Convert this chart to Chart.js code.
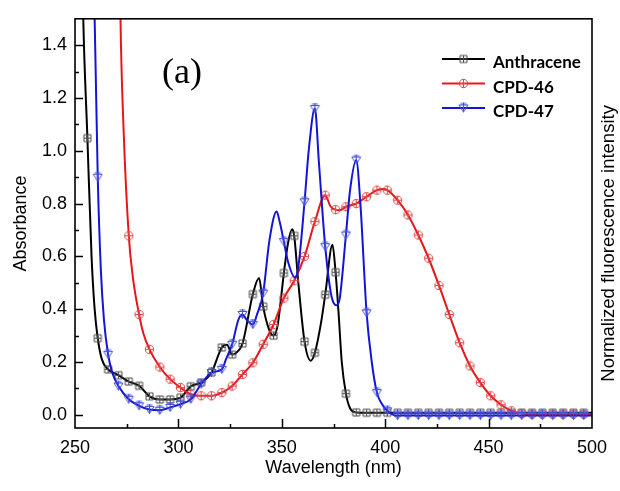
<!DOCTYPE html>
<html>
<head>
<meta charset="utf-8">
<script src="https://cdn.jsdelivr.net/npm/chart.js@4/dist/chart.umd.min.js"></script>
<style>
  html, body { margin: 0; padding: 0; background: #fff; }
  #wrap { width: 620px; height: 491px; }
</style>
</head>
<body>
<div id="wrap"><canvas id="c" width="620" height="491"></canvas></div>
<script>
// Absorption spectra (absorbance vs wavelength, nm)
const anthraceneNm = [252, 254, 256, 258, 259.5, 261, 263, 266, 268.5, 271, 276, 281, 286, 291, 296, 301, 304, 306, 311, 316, 321, 323.5, 326, 328, 331, 336, 339, 341, 344, 346, 348, 351, 353, 355, 356, 358, 361, 364, 366, 369, 371, 374.5, 376, 377.5, 379, 381, 383, 386, 391, 396, 401, 406, 411, 416, 421, 426, 431, 436, 441, 446, 451, 456, 461, 466, 471, 476, 481, 486, 491, 496, 500];
const anthraceneAbs = [2.4, 1.5, 1.048, 0.60, 0.40, 0.29, 0.21, 0.172, 0.16, 0.15, 0.126, 0.11, 0.07, 0.058, 0.058, 0.065, 0.09, 0.108, 0.122, 0.16, 0.255, 0.265, 0.228, 0.235, 0.27, 0.457, 0.518, 0.41, 0.32, 0.30, 0.34, 0.537, 0.65, 0.703, 0.678, 0.50, 0.277, 0.205, 0.235, 0.35, 0.455, 0.644, 0.54, 0.38, 0.2, 0.08, 0.025, 0.009, 0.008, 0.008, 0.008, 0.008, 0.008, 0.008, 0.008, 0.008, 0.008, 0.008, 0.008, 0.008, 0.008, 0.008, 0.008, 0.008, 0.008, 0.008, 0.008, 0.008, 0.008, 0.008, 0.008];

const cpd46Nm = [271, 272, 273.5, 276, 278, 281, 283, 286, 291, 296, 301, 306, 311, 316, 321, 326, 331, 336, 341, 346, 351, 356, 361, 366, 371, 373.5, 376, 378, 381, 386, 391, 396, 399, 401, 406, 411, 416, 421, 426, 431, 436, 441, 446, 451, 456, 461, 466, 471, 476, 481, 486, 491, 496, 500];
const cpd46Abs = [2.2, 1.5, 1.08, 0.678, 0.52, 0.38, 0.31, 0.248, 0.181, 0.135, 0.103, 0.078, 0.072, 0.072, 0.084, 0.109, 0.153, 0.197, 0.267, 0.342, 0.442, 0.508, 0.60, 0.732, 0.832, 0.79, 0.777, 0.775, 0.788, 0.80, 0.826, 0.851, 0.855, 0.851, 0.813, 0.757, 0.681, 0.593, 0.49, 0.38, 0.273, 0.185, 0.122, 0.072, 0.038, 0.015, 0.005, 0.003, 0.003, 0.003, 0.003, 0.003, 0.003, 0.003];

const cpd47Nm = [258.5, 259.5, 261, 262.5, 264, 266, 268, 271, 276, 281, 286, 291, 296, 301, 306, 311, 316, 321, 323, 326, 329, 331, 333, 336, 338, 341, 344, 347.5, 349, 351, 353, 356.5, 358, 361, 363, 366, 368, 371, 374, 376.5, 378, 381, 383, 386, 388, 391, 393.5, 396, 398.5, 401, 404, 406, 411, 416, 421, 426, 431, 436, 441, 446, 451, 456, 461, 466, 471, 476, 481, 486, 491, 496, 500];
const cpd47Abs = [2.0, 1.5, 0.90, 0.55, 0.36, 0.229, 0.16, 0.109, 0.059, 0.034, 0.02, 0.017, 0.028, 0.04, 0.059, 0.116, 0.16, 0.172, 0.21, 0.267, 0.36, 0.38, 0.36, 0.342, 0.38, 0.461, 0.66, 0.77, 0.73, 0.656, 0.58, 0.52, 0.56, 0.807, 1.0, 1.16, 0.95, 0.637, 0.45, 0.415, 0.44, 0.681, 0.85, 0.965, 0.80, 0.386, 0.20, 0.084, 0.04, 0.015, 0.0, -0.003, -0.003, -0.003, -0.003, -0.003, -0.003, -0.003, -0.003, -0.003, -0.003, -0.003, -0.003, -0.003, -0.003, -0.003, -0.003, -0.003, -0.003, -0.003, -0.003];

const seriesNames = ['Anthracene', 'CPD-46', 'CPD-47'];
const xTickValues = [250, 300, 350, 400, 450, 500];
const yTickValues = [0.0, 0.2, 0.4, 0.6, 0.8, 1.0, 1.2, 1.4];

// Symbols sit on the 5 nm grid starting at 256 nm
function onSymbolGrid(x) {
  const d = x - 256;
  return Number.isInteger(x) && d >= 0 && d % 5 === 0;
}

function makeSymbol(kind, color) {
  const s = 13;
  const cv = document.createElement('canvas');
  cv.width = s; cv.height = s;
  const g = cv.getContext('2d');
  g.strokeStyle = color;
  g.lineWidth = 1;
  const c = s / 2;
  g.beginPath();
  if (kind === 'square') {
    g.rect(c - 3.5, c - 3.5, 7, 7);
    g.moveTo(c, c - 3.5); g.lineTo(c, c + 3.5);
    g.moveTo(c - 3.5, c); g.lineTo(c + 3.5, c);
  } else if (kind === 'circle') {
    g.arc(c, c, 4.2, 0, Math.PI * 2);
    g.moveTo(c, c - 4.2); g.lineTo(c, c + 4.2);
    g.moveTo(c - 4.2, c); g.lineTo(c + 4.2, c);
  } else {
    g.moveTo(c - 4.5, c - 3); g.lineTo(c + 4.5, c - 3); g.lineTo(c, c + 4); g.closePath();
    g.moveTo(c, c - 5.5); g.lineTo(c, c + 4);
    g.moveTo(c - 3, c - 4.5); g.lineTo(c + 3, c - 4.5);
  }
  g.stroke();
  return cv;
}

const symSquare = makeSymbol('square', '#4a4a4a');
const symCircle = makeSymbol('circle', '#e04848');
const symTriangle = makeSymbol('triangle', '#4550dc');

const lineColors = ['#000000', '#e8161b', '#1414d8'];
const symbols = [symSquare, symCircle, symTriangle];

function toPoints(xs, ys) { return xs.map((x, i) => ({ x: x, y: ys[i] })); }

function makeDataset(idx, xs, ys, order) {
  return {
    label: seriesNames[idx],
    data: toPoints(xs, ys),
    borderColor: lineColors[idx],
    backgroundColor: lineColors[idx],
    borderWidth: 2,
    cubicInterpolationMode: 'monotone',
    pointStyle: symbols[idx],
    pointRadius: (ctx) => (ctx.raw && onSymbolGrid(ctx.raw.x) && ctx.raw.y < 1.5) ? 4 : 0,
    pointHoverRadius: 0,
    order: order
  };
}

// Frame, inward tick marks, legend, panel tag and right-hand title
const decorations = {
  id: 'decorations',
  afterDraw(chart) {
    const ctx = chart.ctx;
    const a = chart.chartArea;
    const xs = chart.scales.x, ys = chart.scales.y;
    ctx.save();
    ctx.strokeStyle = '#000';
    ctx.lineWidth = 1.6;
    ctx.strokeRect(a.left, a.top, a.right - a.left, a.bottom - a.top);

    ctx.lineWidth = 1.5;
    ctx.beginPath();
    for (let v = 250; v <= 500; v += 25) {
      const px = Math.round(xs.getPixelForValue(v)) + 0.5;
      const len = (v % 50 === 0) ? 9 : 4;
      if (v === 250 || v === 500) continue;
      ctx.moveTo(px, a.bottom); ctx.lineTo(px, a.bottom - len);
    }
    for (let k = 0; k <= 15; k++) {
      const v = k / 10;
      const py = Math.round(ys.getPixelForValue(v)) + 0.5;
      if (py <= a.top + 1) continue;
      const len = (k % 2 === 0) ? 8 : 4;
      ctx.moveTo(a.left, py); ctx.lineTo(a.left + len, py);
    }
    ctx.stroke();

    // legend
    const lx0 = 442, lx1 = 485, ly0 = 59, dy = 24.5;
    ctx.font = 'bold 17px Lato';
    ctx.textBaseline = 'middle';
    ctx.textAlign = 'left';
    seriesNames.forEach((name, i) => {
      const y = ly0 + i * dy;
      ctx.strokeStyle = lineColors[i];
      ctx.lineWidth = 2;
      ctx.beginPath(); ctx.moveTo(lx0, y); ctx.lineTo(lx1, y); ctx.stroke();
      const s = symbols[i];
      ctx.drawImage(s, (lx0 + lx1) / 2 - s.width / 2, y - s.height / 2);
      ctx.fillStyle = '#000';
      ctx.fillText(name, 493, y + 4);
    });

    // panel tag
    ctx.font = '36px "Liberation Serif"';
    ctx.textAlign = 'left';
    ctx.textBaseline = 'alphabetic';
    ctx.fillStyle = '#000';
    ctx.fillText('(a)', 162, 83);

    // right-hand title
    ctx.save();
    ctx.translate(609, (a.top + a.bottom) / 2 + 20);
    ctx.rotate(-Math.PI / 2);
    ctx.textAlign = 'center';
    ctx.textBaseline = 'middle';
    ctx.font = '18.5px "Liberation Sans"';
    ctx.fillText('Normalized fluorescence intensity', 0, 0);
    ctx.restore();
    ctx.restore();
  }
};

new Chart(document.getElementById('c'), {
  type: 'line',
  data: {
    datasets: [
      makeDataset(0, anthraceneNm, anthraceneAbs, 2),
      makeDataset(1, cpd46Nm, cpd46Abs, 1),
      makeDataset(2, cpd47Nm, cpd47Abs, 0)
    ]
  },
  options: {
    responsive: false,
    animation: false,
    events: [],
    layout: { padding: { top: 16, right: 28, left: 0, bottom: 0 } },
    plugins: { legend: { display: false }, tooltip: { enabled: false } },
    scales: {
      x: {
        type: 'linear',
        min: 250, max: 500,
        afterFit: (s) => { s.height = 63; },
        afterBuildTicks: (s) => { s.ticks = xTickValues.map(v => ({ value: v })); },
        grid: { display: false, drawTicks: false },
        border: { display: false },
        ticks: { color: '#000', font: { family: 'Liberation Sans', size: 18 }, padding: 9, maxRotation: 0 },
        title: { display: true, text: 'Wavelength (nm)', color: '#000', font: { family: 'Liberation Sans', size: 18 }, padding: { top: 0, bottom: 12 } }
      },
      y: {
        type: 'linear',
        min: -0.05, max: 1.5,
        afterFit: (s) => { s.width = 75; },
        afterBuildTicks: (s) => { s.ticks = yTickValues.map(v => ({ value: v })); },
        grid: { display: false, drawTicks: false },
        border: { display: false },
        ticks: { color: '#000', font: { family: 'Liberation Sans', size: 18 }, padding: 8, callback: (v) => Number(v).toFixed(1) },
        title: { display: true, text: 'Absorbance', color: '#000', font: { family: 'Liberation Sans', size: 18 }, padding: { top: 10, bottom: 0 } }
      }
    }
  },
  plugins: [decorations]
});
</script>
</body>
</html>
